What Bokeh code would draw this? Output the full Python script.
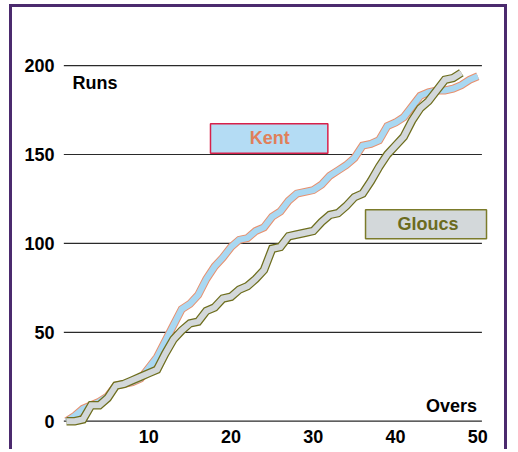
from bokeh.plotting import figure
from bokeh.models import Range1d, FixedTicker
from bokeh.embed import file_html
from bokeh.resources import INLINE
from bokeh.core.properties import value

# ---- data ----
overs_kent = list(range(51))
kent_runs = [0, 3, 7, 9, 11, 14, 20, 21, 22, 24,
             30, 36, 45, 54, 63, 66, 71, 80, 87, 92,
             98, 102, 103, 107, 109, 115, 118, 124, 128, 129,
             130, 133, 138, 141, 144, 148, 155, 156, 158, 166,
             168, 171, 177, 183, 185, 186, 186, 187, 189, 192,
             194]
overs_glos = list(range(49))
glos_runs = [0, 0, 1, 9, 9, 13, 20, 21, 23, 25,
             27, 29, 38, 46, 51, 55, 56, 62, 64, 69,
             70, 74, 76, 80, 85, 97, 98, 104, 105, 106,
             107, 112, 116, 117, 121, 126, 128, 135, 143, 150,
             155, 160, 169, 176, 180, 186, 192, 193, 196]
y_ticks = [0, 50, 100, 150, 200]
x_ticks = [10, 20, 30, 40, 50]
series_names = ["Kent", "Gloucs"]

FONT = "Liberation Sans"

# ---- geometry ----
W, H = 498, 445
OX, OY = 12, 7          # canvas origin on the page
X0PX, XSCALE = 66.05, 8.225
Y0PX, YSCALE = 420.7, 1.778
FL, FR, FT, FB = 60, 495, 56, 426
x_start = (FL - X0PX) / XSCALE
x_end = (FR - X0PX) / XSCALE
y_end = (Y0PX - FT) / YSCALE
y_start = (Y0PX - FB) / YSCALE

p = figure(width=W, height=H, output_backend="svg", toolbar_location=None,
           x_range=Range1d(x_start, x_end), y_range=Range1d(y_start, y_end),
           min_border_left=FL - OX, min_border_right=OX + W - FR,
           min_border_top=FT - OY, min_border_bottom=OY + H - FB)
p.styles = {"border": "3px solid #4b2a6e", "border-bottom": "none",
            "position": "relative", "left": "9px", "top": "4px"}
p.outline_line_color = None
p.background_fill_color = "white"
p.border_fill_color = "white"
p.xgrid.visible = False
p.ygrid.visible = False

for ax in (p.xaxis[0], p.yaxis[0]):
    ax.axis_line_color = None
    ax.major_tick_line_color = None
    ax.minor_tick_line_color = None
    ax.major_label_text_font = FONT
    ax.major_label_text_font_style = "bold"
    ax.major_label_text_font_size = "18px"
    ax.major_label_text_color = "black"
p.xaxis[0].ticker = FixedTicker(ticks=x_ticks)
p.yaxis[0].ticker = FixedTicker(ticks=y_ticks)
p.xaxis[0].major_label_standoff = -3
p.yaxis[0].major_label_standoff = 0

# gridlines
p.segment(x0=[-0.33] * len(y_ticks), y0=y_ticks, x1=[50.5] * len(y_ticks), y1=y_ticks,
          line_color="#2a2a2a", line_width=1.2)

# series
p.line(overs_kent, kent_runs, line_color="#e8906e", line_width=8, line_join="miter")
p.line(overs_kent, kent_runs, line_color="#a9d8f2", line_width=6, line_join="miter")
p.line(overs_glos, glos_runs, line_color="#6e6e1e", line_width=8.5, line_join="miter")
p.line(overs_glos, glos_runs, line_color="#d3d8da", line_width=6, line_join="miter")

# label boxes
p.quad(left=[17.5], right=[31.77], top=[167.3], bottom=[150.7],
       fill_color="#b4dcf4", line_color="#d8204a", line_width=1.5)
p.text(x=[24.7], y=[159.0], text=[series_names[0]], text_align="center",
       text_baseline="middle", text_font=value(FONT), text_font_style="bold",
       text_font_size="18px", text_color="#e0805a")
p.quad(left=[36.35], right=[51.06], top=[118.9], bottom=[102.6],
       fill_color="#d3d8da", line_color="#7b7b2a", line_width=1.5)
p.text(x=[43.95], y=[110.7], text=[series_names[1]], text_align="center",
       text_baseline="middle", text_font=value(FONT), text_font_style="bold",
       text_font_size="18px", text_color="#6b6b1e")

# axis titles
p.text(x=[0.72], y=[190.0], text=["Runs"], text_align="left", text_baseline="alphabetic",
       text_font=value(FONT), text_font_style="bold", text_font_size="18px", text_color="black")
p.text(x=[49.9], y=[8.6], text=["Overs"], text_align="right", text_baseline="alphabetic",
       text_font=value(FONT), text_font_style="bold", text_font_size="18px", text_color="black")

open("out.html", "w").write(file_html(p, INLINE))
